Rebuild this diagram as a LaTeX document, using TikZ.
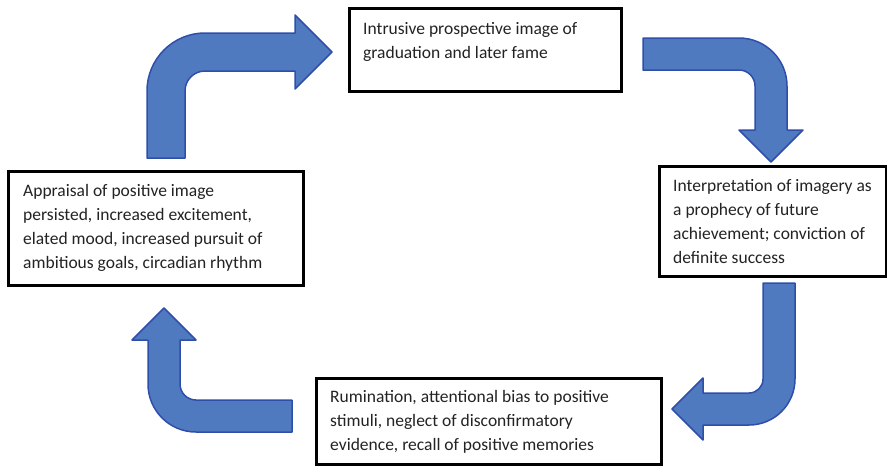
\documentclass[tikz,border=0pt]{standalone}
\usepackage{fontspec}
\setmainfont{Carlito}
\begin{document}
\begin{tikzpicture}[x=1pt,y=-1pt,
  box/.style={draw=black, line width=3pt, fill=white, rectangle, inner sep=0pt, anchor=north west},
  txt/.style={anchor=base west, inner sep=0pt, align=left, text=textgray,
              font=\fontsize{17.5}{23.7}\selectfont},
  blockarrow/.style={fill=arrowblue, draw=arrowedge, line width=1.5pt, line join=round}]
\definecolor{arrowblue}{RGB}{80,122,192}
\definecolor{arrowedge}{RGB}{46,78,170}
\definecolor{textgray}{RGB}{35,35,35}
\useasboundingbox (0,0) rectangle (887,467);

% the four boxes of the cycle
\node[box, minimum width=272pt, minimum height=83pt]  (image)   at (348,7)   {};
\node[box, minimum width=227pt, minimum height=110pt] (interp)  at (658,165) {};
\node[box, minimum width=345pt, minimum height=86pt]  (rumin)   at (315,377) {};
\node[box, minimum width=295pt, minimum height=114pt] (apprais) at (7,170)   {};

% their texts (placed by the baseline of the last line)
\node[txt] (imaget) at (363,58) {Intrusive prospective image of\\graduation and later fame};
\node[txt] (interpt) at (673,263) {Interpretation of imagery as\\a prophecy of future\\achievement; conviction of\\definite success};
\node[txt] (rumint) at (330,450) {Rumination, attentional bias to positive\\stimuli, neglect of disconfirmatory\\evidence, recall of positive memories};
\node[txt] (appraist) at (23,268) {Appraisal of positive image\\persisted, increased excitement,\\elated mood, increased pursuit of\\ambitious goals, circadian rhythm};

% bent block arrows
% appraisal -> image
\draw[blockarrow] (147,158) -- (147,91) arc[start angle=180, end angle=90, radius=58pt]
  -- (295,33) -- (295,15) -- (332,52) -- (295,89) -- (295,71) -- (205,71)
  arc[start angle=90, end angle=180, radius=20pt] -- (185,158) -- cycle;
% image -> interpretation
\draw[blockarrow] (643,38) -- (739,38) arc[start angle=90, end angle=0, radius=48pt]
  -- (787,130) -- (803,130) -- (771,162) -- (739,130) -- (755,130) -- (755,86)
  arc[start angle=0, end angle=90, radius=16pt] -- (643,70) -- cycle;
% interpretation -> rumination
\draw[blockarrow] (763,283) -- (795,283) -- (795,379) arc[start angle=0, end angle=-90, radius=46pt]
  -- (703,425) -- (703,440) -- (672,409) -- (703,378) -- (703,393) -- (749,393)
  arc[start angle=-90, end angle=0, radius=14pt] -- cycle;
% rumination -> appraisal
\draw[blockarrow] (292,400) -- (196,400) arc[start angle=-90, end angle=-180, radius=16pt]
  -- (180,340) -- (196,340) -- (164,308) -- (132,340) -- (148,340) -- (148,384)
  arc[start angle=180, end angle=270, radius=48pt] -- (292,432) -- cycle;
\end{tikzpicture}
\end{document}
